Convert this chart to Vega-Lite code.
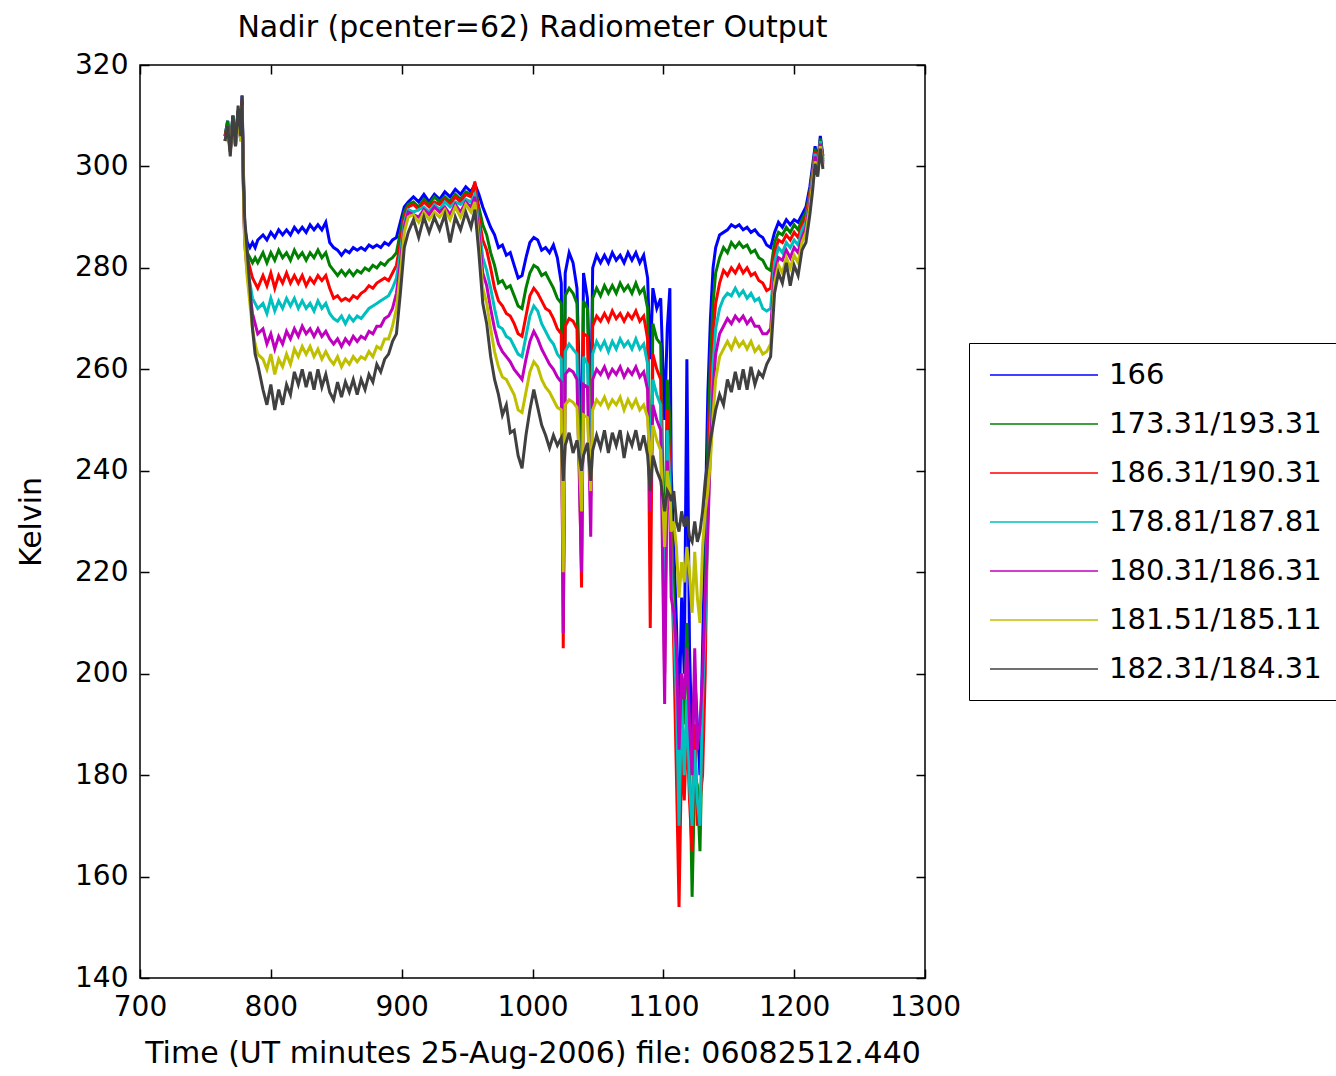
{
"$schema": "https://vega.github.io/schema/vega-lite/v6.json",
"width": 785, "height": 913,
"autosize": {"type": "none"},
"padding": {"left": 140, "top": 65, "right": 411, "bottom": 98},
"background": "white",
"title": {"text": "Nadir (pcenter=62) Radiometer Output", "font": "DejaVu Sans", "fontSize": 30, "fontWeight": "normal", "color": "black", "offset": 8, "anchor": "middle"},
"config": {
  "view": {"stroke": "black", "strokeWidth": 1.5},
  "axis": {"domain": false, "grid": false, "tickColor": "black", "tickWidth": 1.5, "tickSize": -9, "labelFont": "DejaVu Sans", "labelFontSize": 28, "labelColor": "black", "titleFont": "DejaVu Sans", "titleFontSize": 30, "titleFontWeight": "normal", "titleColor": "black", "labelFlush": false, "labelOverlap": false, "format": "d"},
  "legend": {"labelFont": "DejaVu Sans", "labelFontSize": 29, "labelColor": "black", "labelLimit": 500}
},
"data": {"values": [
{"t":765,"a":306,"b":306,"c":306,"d":305,"e":305,"f":305,"g":305},
{"t":767,"a":309,"b":309,"c":308,"d":308,"e":308,"f":307,"g":308},
{"t":769,"a":304,"b":304,"c":303,"d":303,"e":303,"f":303,"g":302},
{"t":771,"a":310,"b":310,"c":309,"d":309,"e":309,"f":309,"g":310},
{"t":773,"a":305,"b":305,"c":305,"d":304,"e":304,"f":304,"g":304},
{"t":775,"a":311,"b":311,"c":310,"d":310,"e":310,"f":310,"g":312},
{"t":777,"a":307,"b":306,"c":306,"d":305,"e":305,"f":305,"g":306},
{"t":778,"a":314,"b":313,"c":313,"d":312,"e":312,"f":312,"g":314},
{"t":779,"a":300,"b":299,"c":298,"d":297,"e":296,"f":296,"g":297},
{"t":780,"a":288,"b":287,"c":286,"d":286,"e":285,"f":285,"g":290},
{"t":782,"a":285,"b":283,"c":282,"d":280,"e":279,"f":278,"g":283},
{"t":784,"a":284,"b":282,"c":280,"d":277,"e":275,"f":273,"g":276},
{"t":786,"a":285,"b":281,"c":278,"d":274,"e":271,"f":268,"g":268},
{"t":788,"a":284,"b":282,"c":277,"d":273,"e":269,"f":265,"g":263},
{"t":790,"a":285.5,"b":281,"c":276,"d":272,"e":267,"f":263,"g":261},
{"t":794,"a":286.5,"b":283,"c":278.5,"d":273,"e":268,"f":262,"g":256},
{"t":797,"a":285.5,"b":281,"c":276.5,"d":271,"e":265,"f":260,"g":253},
{"t":800,"a":287,"b":283,"c":279,"d":274,"e":267,"f":263,"g":257},
{"t":803,"a":286,"b":281.5,"c":276,"d":271.5,"e":264,"f":259,"g":252},
{"t":806,"a":287.5,"b":283.5,"c":278.5,"d":273.5,"e":266.5,"f":262,"g":256},
{"t":809,"a":286.5,"b":282,"c":277,"d":272,"e":265,"f":260.5,"g":253},
{"t":812,"a":287.5,"b":283,"c":279,"d":274,"e":267.5,"f":263,"g":257},
{"t":815,"a":286.5,"b":281.5,"c":277,"d":272.5,"e":266,"f":261,"g":255},
{"t":818,"a":288,"b":283.5,"c":278.5,"d":274,"e":268,"f":264,"g":259.5},
{"t":821,"a":287,"b":282,"c":277,"d":272,"e":266.5,"f":262.5,"g":257},
{"t":824,"a":288,"b":283,"c":278.5,"d":273.5,"e":268.5,"f":264.5,"g":260},
{"t":827,"a":287,"b":281.5,"c":276.5,"d":272,"e":267,"f":263,"g":256.5},
{"t":830,"a":288.5,"b":283,"c":278,"d":273,"e":268,"f":264.5,"g":259.5},
{"t":833,"a":287.5,"b":282,"c":277,"d":271.5,"e":266.5,"f":262.5,"g":256},
{"t":836,"a":288.5,"b":283.5,"c":278.5,"d":273.5,"e":268,"f":264,"g":260},
{"t":839,"a":287.5,"b":282,"c":277.5,"d":272,"e":266.5,"f":262,"g":256.5},
{"t":842,"a":289,"b":283,"c":278.5,"d":273,"e":267.5,"f":263.5,"g":259},
{"t":845,"a":285,"b":280.5,"c":276,"d":271,"e":266,"f":262,"g":255.5},
{"t":848,"a":284,"b":279.5,"c":274,"d":270,"e":265,"f":261,"g":254},
{"t":851,"a":283.5,"b":278.5,"c":274.5,"d":269.5,"e":266,"f":262.5,"g":257.5},
{"t":854,"a":282.5,"b":279.5,"c":273.5,"d":270.5,"e":264.5,"f":260.5,"g":254.5},
{"t":857,"a":283.5,"b":278.5,"c":274,"d":269,"e":266,"f":262,"g":257.5},
{"t":860,"a":283,"b":279.5,"c":273.5,"d":270.5,"e":265,"f":261,"g":255.5},
{"t":863,"a":284,"b":278.5,"c":274.5,"d":269.5,"e":266.5,"f":262.5,"g":258},
{"t":866,"a":283.5,"b":279.5,"c":274,"d":270.5,"e":265.5,"f":261.5,"g":255},
{"t":869,"a":284,"b":279,"c":275,"d":270,"e":266.5,"f":262.5,"g":258},
{"t":872,"a":283.5,"b":280,"c":275.5,"d":271,"e":266,"f":262,"g":256},
{"t":875,"a":284.5,"b":279.5,"c":276.5,"d":272,"e":267.5,"f":263.5,"g":259},
{"t":878,"a":284,"b":280.5,"c":276,"d":272.5,"e":267,"f":262.5,"g":257.5},
{"t":881,"a":284.5,"b":280,"c":277,"d":273,"e":268.5,"f":264.5,"g":261},
{"t":884,"a":284,"b":281,"c":277.5,"d":273.5,"e":268.5,"f":264,"g":259.5},
{"t":887,"a":285,"b":280.5,"c":278,"d":274,"e":270,"f":266,"g":262},
{"t":890,"a":284.5,"b":281.5,"c":277.5,"d":274.5,"e":270.5,"f":266,"g":263},
{"t":893,"a":285.5,"b":282,"c":279,"d":276,"e":272,"f":268.5,"g":265.5},
{"t":896,"a":286,"b":283,"c":280.5,"d":278,"e":275,"f":272,"g":267},
{"t":899,"a":289,"b":287,"c":285,"d":283,"e":281,"f":279,"g":275},
{"t":902,"a":292,"b":291,"c":290,"d":289,"e":288,"f":287,"g":284},
{"t":905,"a":293,"b":292.5,"c":292,"d":291.5,"e":291,"f":290,"g":287},
{"t":909,"a":294,"b":293,"c":292.5,"d":291,"e":290.5,"f":290.5,"g":289.5},
{"t":913,"a":293,"b":292,"c":291.5,"d":291.5,"e":290,"f":289,"g":286},
{"t":917,"a":294.5,"b":293.5,"c":293,"d":292,"e":291.5,"f":291,"g":290},
{"t":921,"a":293,"b":292.5,"c":292,"d":291,"e":290.5,"f":289.5,"g":287},
{"t":925,"a":294.5,"b":294,"c":293,"d":292.5,"e":292,"f":291,"g":290},
{"t":929,"a":293.5,"b":293,"c":292.5,"d":291.5,"e":291,"f":290,"g":287.5},
{"t":933,"a":295,"b":294,"c":293.5,"d":293,"e":292,"f":291.5,"g":290.5},
{"t":937,"a":294,"b":293,"c":292.5,"d":292,"e":290.5,"f":289.5,"g":285},
{"t":941,"a":295.5,"b":294.5,"c":294,"d":293,"e":292.5,"f":292,"g":290},
{"t":945,"a":294.5,"b":293.5,"c":293,"d":292.5,"e":291,"f":290,"g":287.5},
{"t":949,"a":296,"b":295,"c":294.5,"d":293.5,"e":293,"f":292.5,"g":291},
{"t":953,"a":295,"b":294.5,"c":294,"d":293,"e":292,"f":291,"g":288},
{"t":956,"a":296.5,"b":296,"c":297,"d":294.5,"e":294,"f":293,"g":291.5},
{"t":959,"a":294.5,"b":292,"c":290,"d":288.5,"e":287,"f":285,"g":283},
{"t":962,"a":292,"b":288.5,"c":285.5,"d":282,"e":279,"f":276,"g":273},
{"t":965,"a":290,"b":286.5,"c":283.5,"d":279.5,"e":276.5,"f":273,"g":269},
{"t":968,"a":288,"b":283,"c":280,"d":276,"e":272,"f":268,"g":262.5},
{"t":971,"a":286.5,"b":280.5,"c":276,"d":272,"e":268,"f":263.5,"g":258},
{"t":974,"a":284,"b":277,"c":273.5,"d":268.5,"e":265,"f":260.5,"g":255},
{"t":977,"a":284.5,"b":277.5,"c":272.5,"d":268,"e":263.5,"f":258.5,"g":251},
{"t":980,"a":282.5,"b":276,"c":271,"d":266.5,"e":262.5,"f":258,"g":253},
{"t":983,"a":283,"b":276.5,"c":270.5,"d":266,"e":261.5,"f":256.5,"g":247.5},
{"t":986,"a":280.5,"b":274.5,"c":269,"d":264.5,"e":260,"f":255,"g":248},
{"t":989,"a":278,"b":272.5,"c":267,"d":263,"e":259,"f":252,"g":243},
{"t":992,"a":278.5,"b":272,"c":266.5,"d":262.5,"e":258,"f":251.5,"g":240.5},
{"t":995,"a":282,"b":276,"c":270.5,"d":266.5,"e":262,"f":255.5,"g":247},
{"t":998,"a":285,"b":279,"c":274.5,"d":270.5,"e":265.5,"f":259.5,"g":252},
{"t":1001,"a":286,"b":280.5,"c":276,"d":272.5,"e":267.5,"f":261.5,"g":256},
{"t":1004,"a":285.5,"b":280,"c":275,"d":271.5,"e":266,"f":260.5,"g":252.5},
{"t":1007,"a":283.5,"b":278.5,"c":273.5,"d":269,"e":264,"f":258,"g":249},
{"t":1010,"a":284,"b":279,"c":272,"d":267.5,"e":262.5,"f":256.5,"g":247},
{"t":1013,"a":283,"b":277.5,"c":271.5,"d":266,"e":261,"f":255.5,"g":244.5},
{"t":1016,"a":284.5,"b":276,"c":270,"d":265,"e":260,"f":254,"g":247},
{"t":1019,"a":282,"b":274,"c":268,"d":263,"e":258.5,"f":252.5,"g":245},
{"t":1022,"a":277,"b":273,"c":267,"d":262,"e":257.5,"f":252,"g":246.5},
{"t":1023.5,"a":230,"b":218,"c":205,"d":214,"e":208,"f":220,"g":238},
{"t":1025,"a":279,"b":274.5,"c":268.5,"d":263.5,"e":259,"f":253,"g":245},
{"t":1028,"a":283,"b":276,"c":270,"d":265,"e":260,"f":254,"g":247.5},
{"t":1031,"a":281,"b":275,"c":269.5,"d":264,"e":259.5,"f":253.5,"g":243.5},
{"t":1034,"a":276,"b":273,"c":268,"d":263,"e":258,"f":252.5,"g":246},
{"t":1037.5,"a":240,"b":230,"c":217,"d":222,"e":220,"f":232,"g":240},
{"t":1039,"a":279,"b":273.5,"c":267,"d":262.5,"e":257,"f":251,"g":243},
{"t":1042,"a":274,"b":272,"c":266.5,"d":261,"e":256.5,"f":250.5,"g":245.5},
{"t":1044.5,"a":250,"b":240,"c":235,"d":238,"e":227,"f":236,"g":238},
{"t":1046,"a":280,"b":274,"c":268.5,"d":263,"e":258,"f":252,"g":244},
{"t":1049,"a":282.5,"b":276,"c":270.5,"d":265.5,"e":260,"f":254,"g":247},
{"t":1052,"a":281,"b":274.5,"c":269.5,"d":264,"e":259,"f":253,"g":244.5},
{"t":1055,"a":282.5,"b":276.5,"c":271,"d":265.5,"e":260.5,"f":254.5,"g":248},
{"t":1058,"a":281,"b":275,"c":269.5,"d":263.5,"e":258.5,"f":252.5,"g":243.5},
{"t":1061,"a":283,"b":276.5,"c":271.5,"d":265.5,"e":260,"f":254,"g":247.5},
{"t":1064,"a":281.5,"b":275,"c":270,"d":264,"e":259,"f":253,"g":245},
{"t":1067,"a":282.5,"b":277,"c":271,"d":266,"e":260.5,"f":254.5,"g":248},
{"t":1070,"a":281,"b":275.5,"c":269.5,"d":264.5,"e":258.5,"f":252,"g":242.5},
{"t":1073,"a":283,"b":276.5,"c":271,"d":265.5,"e":260,"f":254,"g":247},
{"t":1076,"a":281.5,"b":275,"c":270,"d":264,"e":259,"f":252.5,"g":245},
{"t":1079,"a":283,"b":277,"c":271.5,"d":266,"e":260.5,"f":254,"g":248},
{"t":1082,"a":281,"b":275,"c":269.5,"d":264,"e":258.5,"f":252,"g":244},
{"t":1085,"a":282.5,"b":276,"c":270.5,"d":265,"e":259.5,"f":253,"g":247},
{"t":1088,"a":278,"b":272,"c":266,"d":261,"e":256,"f":250.5,"g":243},
{"t":1090,"a":262,"b":225,"c":209,"d":238,"e":232,"f":240,"g":236},
{"t":1092,"a":276,"b":269,"c":263,"d":258,"e":253,"f":249,"g":243},
{"t":1095,"a":272,"b":266,"c":260,"d":255,"e":250,"f":246,"g":240},
{"t":1098,"a":274,"b":265,"c":258,"d":253,"e":248,"f":244,"g":238},
{"t":1101,"a":250,"b":215,"c":200,"d":205,"e":194,"f":225,"g":232},
{"t":1103,"a":268,"b":258,"c":252,"d":248,"e":242,"f":240,"g":236},
{"t":1105,"a":276,"b":250,"c":242,"d":238,"e":232,"f":236,"g":235},
{"t":1106,"a":240,"b":232,"c":225,"d":220,"e":215,"f":228,"g":234},
{"t":1108,"a":225,"b":215,"c":205,"d":210,"e":212,"f":230,"g":236},
{"t":1110,"a":210,"b":200,"c":180,"d":195,"e":205,"f":225,"g":230},
{"t":1112,"a":190,"b":175,"c":154,"d":170,"e":185,"f":215,"g":228},
{"t":1114,"a":215,"b":200,"c":185,"d":195,"e":200,"f":222,"g":232},
{"t":1116,"a":200,"b":190,"c":175,"d":180,"e":195,"f":218,"g":229},
{"t":1118,"a":262,"b":210,"c":190,"d":195,"e":205,"f":225,"g":231},
{"t":1120,"a":205,"b":185,"c":175,"d":178,"e":190,"f":220,"g":227},
{"t":1122,"a":185,"b":156,"c":165,"d":170,"e":180,"f":212,"g":226},
{"t":1124,"a":200,"b":180,"c":190,"d":185,"e":205,"f":224,"g":230},
{"t":1126,"a":190,"b":178,"c":170,"d":175,"e":185,"f":215,"g":226},
{"t":1128,"a":180,"b":165,"c":175,"d":170,"e":190,"f":210,"g":228},
{"t":1130,"a":205,"b":190,"c":180,"d":195,"e":200,"f":225,"g":232},
{"t":1132,"a":230,"b":215,"c":200,"d":210,"e":215,"f":232,"g":238},
{"t":1134,"a":255,"b":245,"c":235,"d":230,"e":228,"f":236,"g":242},
{"t":1136,"a":270,"b":262,"c":255,"d":248,"e":244,"f":242,"g":246},
{"t":1138,"a":280,"b":273,"c":267,"d":261,"e":256,"f":251,"g":249},
{"t":1140,"a":284,"b":279,"c":273,"d":268,"e":263,"f":258,"g":252},
{"t":1143,"a":286.5,"b":282,"c":277,"d":272,"e":267,"f":262.5,"g":255},
{"t":1146,"a":287,"b":284,"c":279.5,"d":274,"e":268.5,"f":264,"g":253},
{"t":1149,"a":287.5,"b":283,"c":278.5,"d":275,"e":270,"f":265.5,"g":258},
{"t":1152,"a":288.5,"b":285,"c":280,"d":274.5,"e":269,"f":264,"g":255.5},
{"t":1155,"a":288,"b":284,"c":279,"d":276,"e":270.5,"f":266,"g":259.5},
{"t":1158,"a":288.5,"b":285,"c":280.5,"d":274.5,"e":269.5,"f":264.5,"g":256},
{"t":1161,"a":287.5,"b":284,"c":279,"d":275.5,"e":270.5,"f":265.5,"g":260},
{"t":1164,"a":288,"b":284.5,"c":280,"d":274,"e":269,"f":264,"g":256},
{"t":1167,"a":287,"b":283,"c":278.5,"d":275,"e":270,"f":265.5,"g":260.5},
{"t":1170,"a":287.5,"b":283.5,"c":279,"d":273.5,"e":268.5,"f":263.5,"g":257},
{"t":1173,"a":286.5,"b":282,"c":277.5,"d":274,"e":268.5,"f":264.5,"g":259.5},
{"t":1176,"a":286,"b":281.5,"c":277,"d":272,"e":267,"f":263,"g":258.5},
{"t":1179,"a":284.5,"b":280,"c":275.5,"d":271.5,"e":267,"f":263.5,"g":261},
{"t":1182,"a":284,"b":279.5,"c":276,"d":272,"e":268,"f":265,"g":262.5},
{"t":1185,"a":287,"b":285,"c":283,"d":281,"e":279,"f":277,"g":275},
{"t":1188,"a":289,"b":287,"c":285.5,"d":284,"e":282,"f":280.5,"g":279},
{"t":1191,"a":288,"b":286.5,"c":285,"d":283,"e":281.5,"f":279,"g":277},
{"t":1194,"a":289.5,"b":288,"c":286.5,"d":285,"e":283.5,"f":282,"g":281},
{"t":1197,"a":288.5,"b":287,"c":285.5,"d":284,"e":282,"f":280,"g":276.5},
{"t":1200,"a":289.5,"b":288.5,"c":287,"d":285.5,"e":284,"f":282.5,"g":280.5},
{"t":1203,"a":289,"b":287.5,"c":286,"d":284.5,"e":283,"f":281,"g":278.5},
{"t":1206,"a":290.5,"b":289.5,"c":288.5,"d":287.5,"e":286,"f":285,"g":283.5},
{"t":1209,"a":292,"b":291,"c":290,"d":289,"e":288,"f":287,"g":285},
{"t":1212,"a":296,"b":295,"c":294.5,"d":293.5,"e":293,"f":292,"g":290.5},
{"t":1214,"a":300,"b":299,"c":298.5,"d":298,"e":297,"f":296.5,"g":295},
{"t":1216,"a":304,"b":303.5,"c":303,"d":302.5,"e":302,"f":301,"g":300.5},
{"t":1218,"a":301,"b":300.5,"c":300,"d":299.5,"e":299,"f":298.5,"g":298},
{"t":1220,"a":306,"b":305.5,"c":305,"d":305,"e":304.5,"f":304,"g":303.5},
{"t":1222,"a":302,"b":301.5,"c":301,"d":301,"e":300.5,"f":300,"g":299.5}
]},
"layer": [
  {
    "transform": [{"fold": ["a","b","c","d","e","f","g"], "as": ["s","k"]}],
    "mark": {"type": "line", "strokeWidth": 3},
    "encoding": {
      "x": {"field": "t", "type": "quantitative", "scale": {"domain": [700, 1300], "nice": false, "zero": false},
            "axis": {"orient": "bottom", "values": [700,800,900,1000,1100,1200,1300], "title": "Time (UT minutes 25-Aug-2006) file: 06082512.440", "labelPadding": 24, "titlePadding": 17, "labelBaseline": "top"}},
      "y": {"field": "k", "type": "quantitative", "scale": {"domain": [140, 320], "nice": false, "zero": false},
            "axis": {"orient": "left", "values": [140,160,180,200,220,240,260,280,300,320], "title": "Kelvin", "labelPadding": 21, "titlePadding": 28}},
      "color": {"field": "s", "type": "nominal",
        "scale": {"domain": ["a","b","c","d","e","f","g"], "range": ["#0000FF","#008000","#FF0000","#00BFBF","#BF00BF","#BFBF00","#404040"]},
        "legend": {"title": null, "orient": "none", "legendX": 829, "legendY": 278,
          "strokeColor": "black", "fillColor": "white", "padding": 16,
          "symbolType": "M-1,0H6.2", "symbolSize": 900, "symbolStrokeWidth": 1.5, "symbolOffset": 4,
          "labelOffset": 88, "rowPadding": 18, "labelLimit": 500,
          "labelExpr": "datum.label == 'a' ? '166' : datum.label == 'b' ? '173.31/193.31' : datum.label == 'c' ? '186.31/190.31' : datum.label == 'd' ? '178.81/187.81' : datum.label == 'e' ? '180.31/186.31' : datum.label == 'f' ? '181.51/185.11' : '182.31/184.31'"}}
    }
  },
  {
    "data": {"values": [{"t": 1000, "k": 200}]},
    "mark": {"type": "point", "opacity": 0},
    "encoding": {
      "x": {"field": "t", "type": "quantitative", "scale": {"domain": [700, 1300], "nice": false, "zero": false},
            "axis": {"orient": "top", "values": [700,800,900,1000,1100,1200,1300], "labels": false, "title": null}},
      "y": {"field": "k", "type": "quantitative", "scale": {"domain": [140, 320], "nice": false, "zero": false},
            "axis": {"orient": "right", "values": [140,160,180,200,220,240,260,280,300,320], "labels": false, "title": null}}
    }
  }
],
"resolve": {"axis": {"x": "independent", "y": "independent"}}
}
